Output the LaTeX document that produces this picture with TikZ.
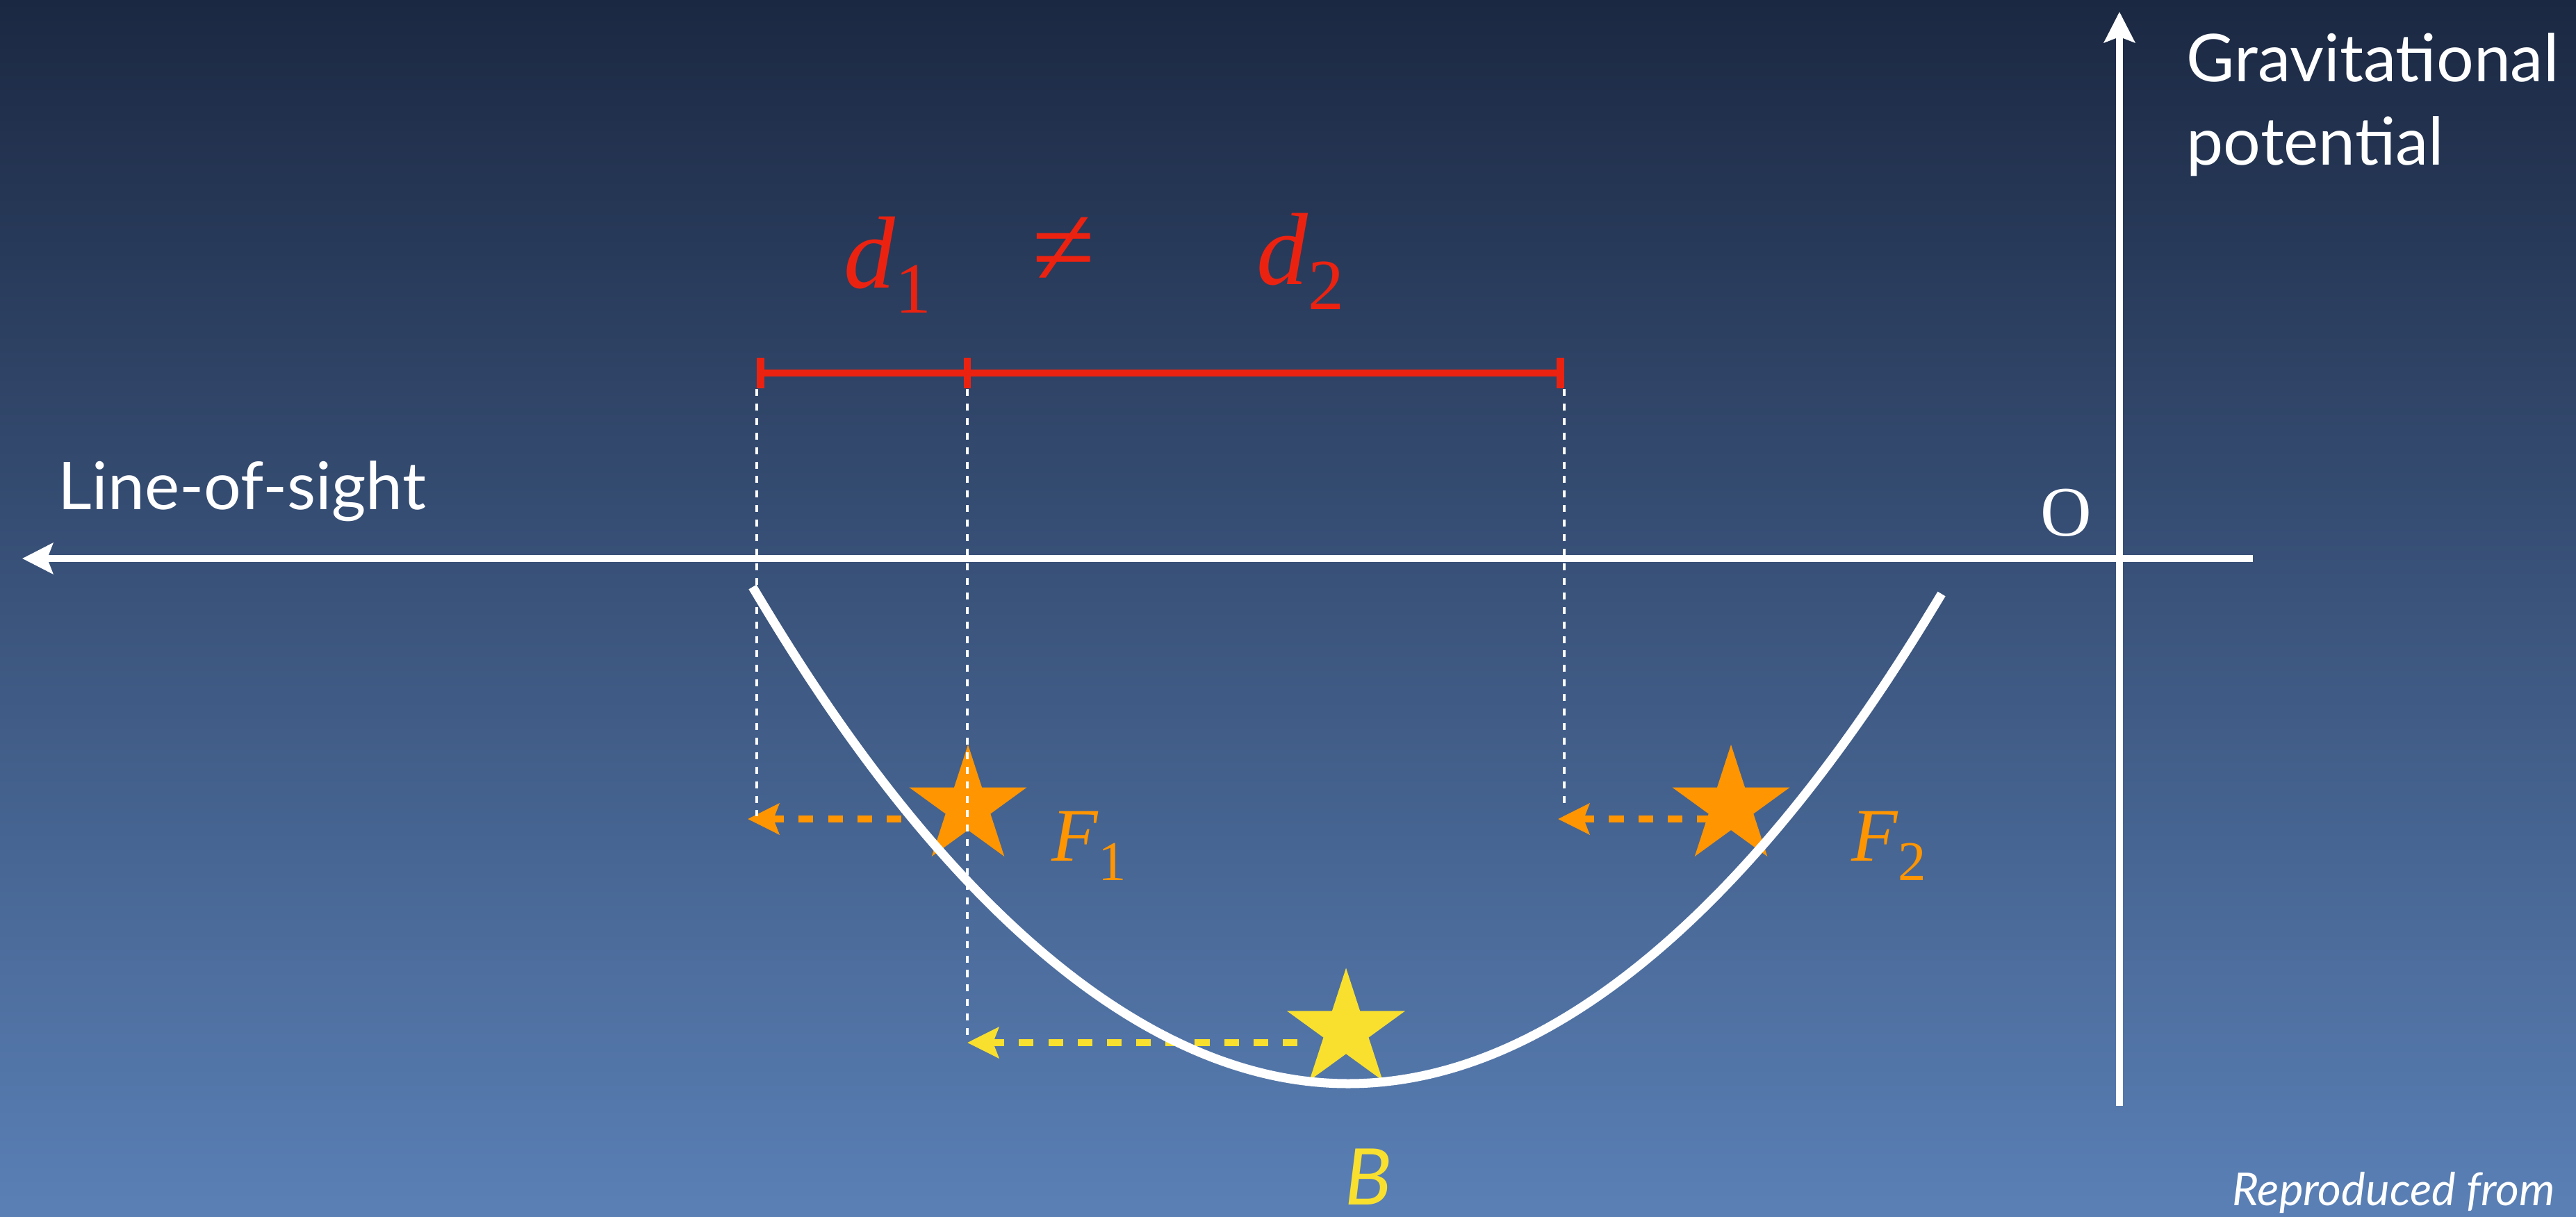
\documentclass[tikz,border=0pt]{standalone}
\usepackage{fontspec}
\usepackage{xcolor}
\usepackage{tikz}
\usetikzlibrary{arrows.meta,shapes.geometric}
\newfontfamily\labelfont{Lato}
\newfontfamily\seriffont{Liberation Serif}
\definecolor{cBgTop}{RGB}{27,40,66}
\definecolor{cBgBot}{RGB}{90,128,182}
\definecolor{cOrange}{RGB}{255,149,0}
\definecolor{cYellow}{RGB}{249,224,46}
\definecolor{cRed}{RGB}{236,34,16}

\begin{document}
\begin{tikzpicture}[
   axisarrow/.style={white,line width=3.1pt,-{Stealth[length=4.4mm,width=4.4mm,inset=0.8mm]}},
   guide/.style={white,line width=1.4pt,dash pattern=on 2.85pt off 3.1pt},
   move/.style={line width=3.1pt,dash pattern=on 6pt off 6pt,-{Stealth[length=4.5mm,width=4.4mm,inset=0.8mm]}},
   redbar/.style={cRed,line width=3.1pt},
   starnode/.style={star,star points=5,star point ratio=2.618,minimum size=1.78cm,inner sep=0pt},
   lab/.style={inner sep=0pt,text=white,font=\labelfont\fontsize{27}{32}\selectfont}]
  \useasboundingbox (0,0) rectangle (37.07,17.51);
  \shade[top color=cBgTop,bottom color=cBgBot] (0,0) rectangle (37.07,17.51);
  % axes
  \coordinate (losend) at (32.42,9.47);
  \coordinate (lostip) at (0.32,9.47);
  \coordinate (potbot) at (30.50,1.59);
  \coordinate (pottip) at (30.50,17.34);
  \draw[axisarrow] (losend) -- (lostip);
  \draw[axisarrow] (potbot) -- (pottip);
  % projections onto the line of sight
  \coordinate (f1a) at (12.97,5.72); \coordinate (f1b) at (10.76,5.72);
  \coordinate (f2a) at (24.63,5.72); \coordinate (f2b) at (22.42,5.72);
  \coordinate (ba) at (18.67,2.50);  \coordinate (bb) at (13.92,2.50);
  \draw[move,cOrange] (f1a) -- (f1b);
  \draw[move,cOrange] (f2a) -- (f2b);
  \draw[move,cYellow] (ba) -- (bb);
  % stars
  \node[starnode,fill=cOrange] (F1star) at (13.93,5.90) {};
  \node[starnode,fill=cOrange] (F2star) at (24.91,5.90) {};
  \node[starnode,fill=cYellow,minimum size=1.79cm] (Bstar) at (19.37,2.68) {};
  % potential well
  \draw[white,line width=3.7pt] (10.83,9.06) parabola bend (19.40,1.91) (27.94,8.96);
  % distance bar
  \coordinate (b1) at (10.89,12.14);
  \coordinate (b2) at (13.92,12.14);
  \coordinate (b3) at (22.51,12.14);
  \draw[redbar,{Bar[width=4.4mm]}-{Bar[width=4.4mm]}] (b1) -- (b3);
  \draw[redbar] (b2) ++(0,0.22) -- ++(0,-0.44);
  \coordinate (g1) at (10.89,11.91); \coordinate (g1e) at (10.89,5.76);
  \coordinate (g2) at (13.92,11.91); \coordinate (g2e) at (13.92,2.60);
  \coordinate (g3) at (22.51,11.91); \coordinate (g3e) at (22.51,5.86);
  \draw[guide] (g1) -- (g1e);
  \draw[guide] (g2) -- (g2e);
  \draw[guide] (g3) -- (g3e);
  % labels
  \node[lab,anchor=base west] (los) at (0.83,10.18) {Line-of-sight};
  \node[lab,anchor=base west] (grav1) at (31.46,16.33) {Gravitational};
  \node[lab,anchor=base west] (grav2) at (31.46,15.13) {potential};
  \node[inner sep=0pt,text=white,font=\seriffont\fontsize{29}{32}\selectfont] (orig) at (29.73,10.13) {O};
  \node[anchor=base west,inner sep=0pt,text=cRed] (d1lab) at (12.14,13.36)
    {\seriffont\fontsize{42}{48}\selectfont\itshape d\raisebox{-10pt}{\upshape\fontsize{29.5}{34}\selectfont 1}};
  \node[anchor=base west,inner sep=0pt,text=cRed] (neqlab) at (14.85,13.39)
    {\seriffont\fontsize{47}{52}\selectfont ≠};
  \node[anchor=base west,inner sep=0pt,text=cRed] (d2lab) at (18.08,13.41)
    {\seriffont\fontsize{42}{48}\selectfont\itshape d\raisebox{-10pt}{\upshape\fontsize{29.5}{34}\selectfont 2}};
  \node[anchor=base west,inner sep=0pt,text=cOrange] (F1lab) at (15.13,5.12)
    {\seriffont\fontsize{31}{36}\selectfont\itshape F\raisebox{-8pt}{\upshape\fontsize{23}{26}\selectfont 1}};
  \node[anchor=base west,inner sep=0pt,text=cOrange] (F2lab) at (26.64,5.12)
    {\seriffont\fontsize{31}{36}\selectfont\itshape F\raisebox{-8pt}{\upshape\fontsize{23}{26}\selectfont 2}};
  \node[anchor=base,inner sep=0pt,text=cYellow,font=\labelfont\itshape\fontsize{32}{36}\selectfont] (Blab) at (19.69,0.17) {B};
  \node[anchor=base west,inner sep=0pt,text=white,font=\labelfont\itshape\fontsize{18.6}{22}\selectfont] (repro) at (32.12,0.16) {Reproduced from};
\end{tikzpicture}
\end{document}
